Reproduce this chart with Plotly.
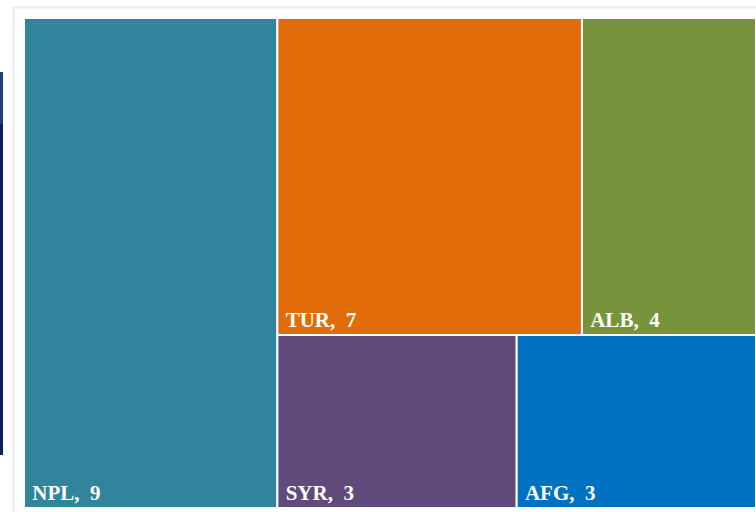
import plotly.graph_objects as go

W, H = 756, 512

# data
countries = ["NPL", "TUR", "ALB", "SYR", "AFG"]
counts = [9, 7, 4, 3, 3]
colors = ["#31849B", "#E36C0A", "#77933C", "#604A7B", "#0070C0"]

fig = go.Figure(go.Treemap(
    labels=countries,
    parents=[""] * len(countries),
    values=counts,
    sort=True,
    texttemplate="<b>&nbsp;%{label},&nbsp;&nbsp;%{value}</b>",
    textposition="bottom left",
    textfont=dict(family="Liberation Serif", size=21, color="white"),
    marker=dict(colors=colors, line=dict(color="white", width=2),
                pad=dict(t=0, l=0, r=0, b=0)),
    tiling=dict(packing="squarify", pad=0),
    pathbar=dict(visible=False),
    hoverinfo="label+value",
    domain=dict(x=[24 / W, 1], y=[4 / H, 1 - 18 / H]),
))

# page decorations seen around the chart
fig.add_shape(type="rect", xref="paper", yref="paper",
              x0=13.5 / W, x1=1.02, y0=-0.02, y1=1 - 7.5 / H,
              line=dict(color="#EBEBEB", width=2), fillcolor="rgba(0,0,0,0)")
fig.add_shape(type="rect", xref="paper", yref="paper",
              x0=0, x1=3 / W, y0=1 - 124 / H, y1=1 - 72 / H,
              line=dict(width=0), fillcolor="#1F3F7A")
fig.add_shape(type="rect", xref="paper", yref="paper",
              x0=0, x1=3 / W, y0=1 - 455 / H, y1=1 - 124 / H,
              line=dict(width=0), fillcolor="#0B2060")

fig.update_layout(
    width=W, height=H,
    margin=dict(l=0, r=0, t=0, b=0),
    paper_bgcolor="white",
    showlegend=False,
)

fig.write_html("out.html", config={"displayModeBar": False},
               post_script="document.body.style.margin='0';document.body.style.overflow='hidden';")
